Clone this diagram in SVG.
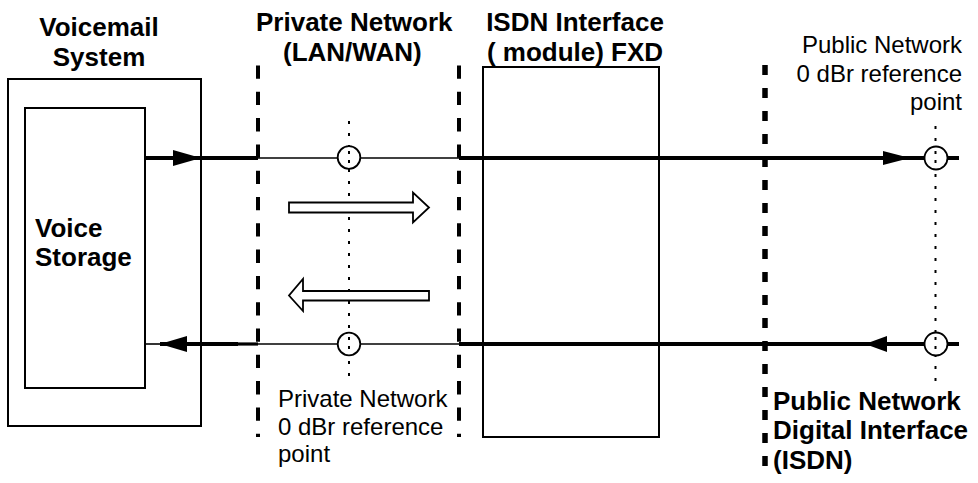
<svg xmlns="http://www.w3.org/2000/svg" width="978" height="483" viewBox="0 0 978 483">
<style>
.box{fill:#fff;stroke:#000;stroke-width:2}
.bold{font-family:"Liberation Sans",Arial,sans-serif;font-weight:bold;font-size:26px;fill:#000}
.small{font-family:"Liberation Sans",Arial,sans-serif;font-size:24px;fill:#000}
.thick{stroke:#000;stroke-width:4;fill:none}
.thin{stroke:#000;stroke-width:1.6;fill:none}
.pdash{stroke:#000;stroke-width:4;stroke-dasharray:13.3 13;fill:none}
.gdash{stroke:#000;stroke-width:5.5;stroke-dasharray:10 13;fill:none}
.dot{stroke:#000;stroke-width:2;stroke-dasharray:3 9;fill:none}
.ref{fill:#fff;stroke:#000;stroke-width:1.8}
.head{fill:#000;stroke:none}
.block{fill:#fff;stroke:#000;stroke-width:1.8;stroke-linejoin:miter}
</style>
<rect width="978" height="483" fill="#fff"/>
<g id="voicemail-system">
<rect class="box" x="8" y="79" width="193" height="347"/>
<text class="bold" x="99" y="36" text-anchor="middle">Voicemail</text>
<text class="bold" x="99" y="66" text-anchor="middle">System</text>
</g>
<g id="private-network">
<line class="pdash" x1="258" y1="65.5" x2="258" y2="437"/>
<line class="pdash" x1="459" y1="65.5" x2="459" y2="437"/>
<text class="bold" x="256" y="31">Private Network</text>
<text class="bold" x="283" y="60.5">(LAN/WAN)</text>
</g>
<g id="isdn-interface">
<rect class="box" x="483" y="67" width="176" height="370"/>
<text class="bold" x="575" y="31" text-anchor="middle">ISDN Interface</text>
<text class="bold" x="575" y="60.5" text-anchor="middle">( module) FXD</text>
</g>
<g id="public-network-interface">
<line class="gdash" x1="765" y1="65" x2="765" y2="468"/>
<text class="bold" x="773" y="409.5">Public Network</text>
<text class="bold" x="773" y="439">Digital Interface</text>
<text class="bold" x="773" y="468.5">(ISDN)</text>
</g>
<g id="connectors">
<line class="thick" x1="145" y1="158" x2="258" y2="158"/>
<polygon class="head" points="173,150 201,158 173,166"/>
<line class="thin" x1="258" y1="158" x2="459" y2="158"/>
<line class="thick" x1="459" y1="158" x2="959" y2="158"/>
<polygon class="head" points="883,151 910,158 883,165"/>
<line class="thin" x1="145" y1="344" x2="162" y2="344"/>
<line class="thick" x1="160" y1="344" x2="238" y2="344"/>
<line class="thick" x1="238" y1="344" x2="258" y2="344" style="stroke-width:3.2"/>
<polygon class="head" points="187,336 160,344 187,352"/>
<line class="thin" x1="258" y1="344" x2="459" y2="344"/>
<line class="thick" x1="459" y1="344" x2="959" y2="344"/>
<polygon class="head" points="887,336 865,344 887,352"/>
</g>
<g id="voice-storage">
<rect class="box" x="25" y="108" width="120" height="280"/>
<text class="bold" x="35" y="237">Voice</text>
<text class="bold" x="35" y="266">Storage</text>
</g>
<g id="private-ref-point">
<line class="dot" x1="349" y1="121" x2="349" y2="381"/>
<circle class="ref" cx="349" cy="157.5" r="11.3"/>
<circle class="ref" cx="349" cy="344" r="11.3"/>
<line class="dot" x1="349" y1="151" x2="349" y2="165" style="stroke-dasharray:3 6"/>
<line class="dot" x1="349" y1="337" x2="349" y2="351" style="stroke-dasharray:3 6"/>
<text class="small" x="278" y="407">Private Network</text>
<text class="small" x="278" y="435">0 dBr reference</text>
<text class="small" x="278" y="462">point</text>
</g>
<g id="public-ref-point">
<line class="dot" x1="935.5" y1="126" x2="935.5" y2="381"/>
<circle class="ref" cx="936" cy="158" r="11.5"/>
<circle class="ref" cx="936" cy="344" r="11.5"/>
<line class="dot" x1="935.5" y1="151" x2="935.5" y2="165" style="stroke-dasharray:3 6"/>
<line class="dot" x1="935.5" y1="337" x2="935.5" y2="351" style="stroke-dasharray:3 6"/>
<text class="small" x="962" y="53" text-anchor="end">Public Network</text>
<text class="small" x="962" y="82" text-anchor="end">0 dBr reference</text>
<text class="small" x="962" y="110" text-anchor="end">point</text>
</g>
<g id="direction-arrows">
<polygon class="block" points="289,202.5 413,202.5 413,192.5 429,207.5 413,222.5 413,212.5 289,212.5"/>
<polygon class="block" points="429,291 303,291 303,279 289,295.5 303,311 303,300.5 429,300.5"/>
</g>
</svg>
